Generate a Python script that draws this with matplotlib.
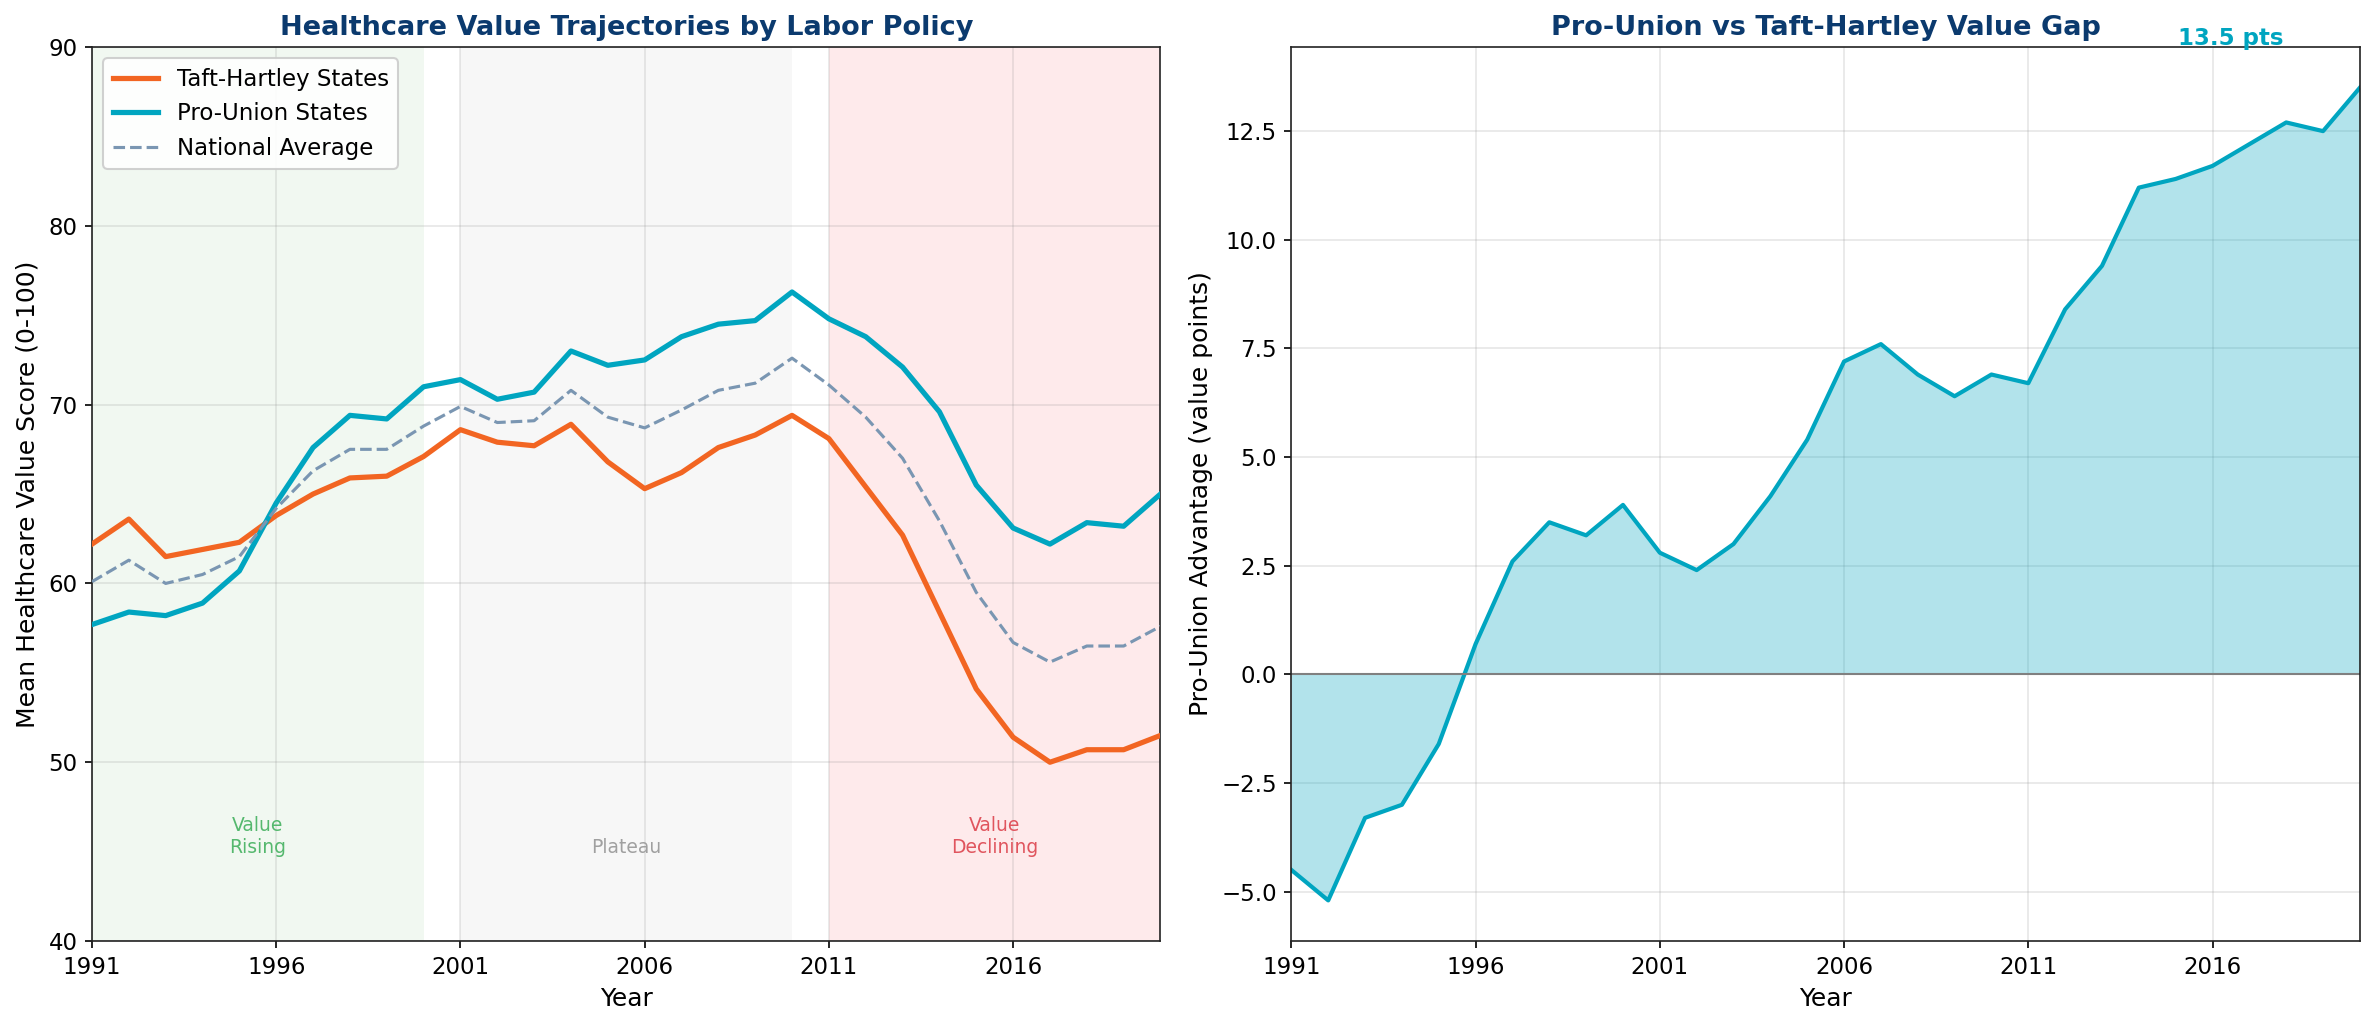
import matplotlib
matplotlib.use('Agg')
import matplotlib.pyplot as plt
import numpy as np

# values
years = list(range(1991, 2021))
taft_hartley = [62.2, 63.6, 61.5, 61.9, 62.3, 63.8, 65.0, 65.9, 66.0, 67.1,
                68.6, 67.9, 67.7, 68.9, 66.8, 65.3, 66.2, 67.6, 68.3, 69.4,
                68.1, 65.4, 62.7, 58.4, 54.1, 51.4, 50.0, 50.7, 50.7, 51.5]
pro_union = [57.7, 58.4, 58.2, 58.9, 60.7, 64.5, 67.6, 69.4, 69.2, 71.0,
             71.4, 70.3, 70.7, 73.0, 72.2, 72.5, 73.8, 74.5, 74.7, 76.3,
             74.8, 73.8, 72.1, 69.6, 65.5, 63.1, 62.2, 63.4, 63.2, 65.0]
national_avg = [60.1, 61.3, 60.0, 60.5, 61.5, 64.2, 66.3, 67.5, 67.5, 68.8,
                69.9, 69.0, 69.1, 70.8, 69.3, 68.7, 69.7, 70.8, 71.2, 72.6,
                71.1, 69.3, 67.0, 63.5, 59.5, 56.7, 55.6, 56.5, 56.5, 57.6]

# policy eras: (start, end, label, label x)
eras = [(1991, 2000, 'Value\nRising', 1995.5),
        (2001, 2010, 'Plateau', 2005.5),
        (2011, 2020, 'Value\nDeclining', 2015.5)]
era_fill = ['#F1F8F1', '#F7F7F7', '#FEEAEB']
era_text = ['#55B86E', '#A0A0A0', '#E0555E']

orange = '#F26522'
teal = '#00A5C0'
slate = '#7A96B2'
navy = '#0B3A6E'

gap = np.array(pro_union) - np.array(taft_hartley)

fig = plt.figure(figsize=(2377 / 150, 1027 / 150), dpi=150)
gs = fig.add_gridspec(1, 2, left=0.0387, right=0.9928, top=0.9542,
                      bottom=0.0837, wspace=0.1225)
ax1 = fig.add_subplot(gs[0])
ax2 = fig.add_subplot(gs[1])

# left panel
for (s, e, lab, lx), fc, tc in zip(eras, era_fill, era_text):
    ax1.axvspan(s, e, color=fc, zorder=0, lw=0)
    ax1.text(lx, 44.7, lab, ha='center', va='bottom', color=tc, fontsize=9)

ax1.plot(years, taft_hartley, color=orange, lw=2.5, label='Taft-Hartley States', zorder=3)
ax1.plot(years, pro_union, color=teal, lw=2.5, label='Pro-Union States', zorder=3)
ax1.plot(years, national_avg, color=slate, lw=1.5, ls='--', label='National Average', zorder=3)
ax1.set_xlim(1991, 2020)
ax1.set_ylim(40, 90)
ax1.set_xticks(range(1991, 2020, 5))
ax1.grid(True, color='#888888', alpha=0.2, lw=0.8, zorder=1)
ax1.set_axisbelow(True)
ax1.set_xlabel('Year', fontsize=12)
ax1.set_ylabel('Mean Healthcare Value Score (0-100)', fontsize=12)
ax1.set_title('Healthcare Value Trajectories by Labor Policy', fontsize=13,
              fontweight='bold', color=navy)
ax1.legend(loc='upper left', fontsize=11, framealpha=0.9)
ax1.tick_params(labelsize=11)

# right panel
ax2.fill_between(years, gap, 0, color=teal, alpha=0.3, lw=0)
ax2.plot(years, gap, color=teal, lw=2)
ax2.axhline(0, color='gray', lw=1)
ax2.set_xlim(1991, 2020)
ax2.set_xticks(range(1991, 2020, 5))
ax2.grid(True, color='#888888', alpha=0.2, lw=0.8)
ax2.set_axisbelow(True)
ax2.set_xlabel('Year', fontsize=12)
ax2.set_ylabel('Pro-Union Advantage (value points)', fontsize=12)
ax2.set_title('Pro-Union vs Taft-Hartley Value Gap', fontsize=13,
              fontweight='bold', color=navy)
ax2.text(2016.5, 1.002, '%.1f pts' % gap[-1], transform=ax2.get_xaxis_transform(),
         ha='center', va='baseline', color=teal, fontsize=11, fontweight='bold',
         zorder=5)
ax2.tick_params(labelsize=11)

for ax in (ax1, ax2):
    for sp in ax.spines.values():
        sp.set_color('#222222')

fig.savefig('out.png', dpi=150)
